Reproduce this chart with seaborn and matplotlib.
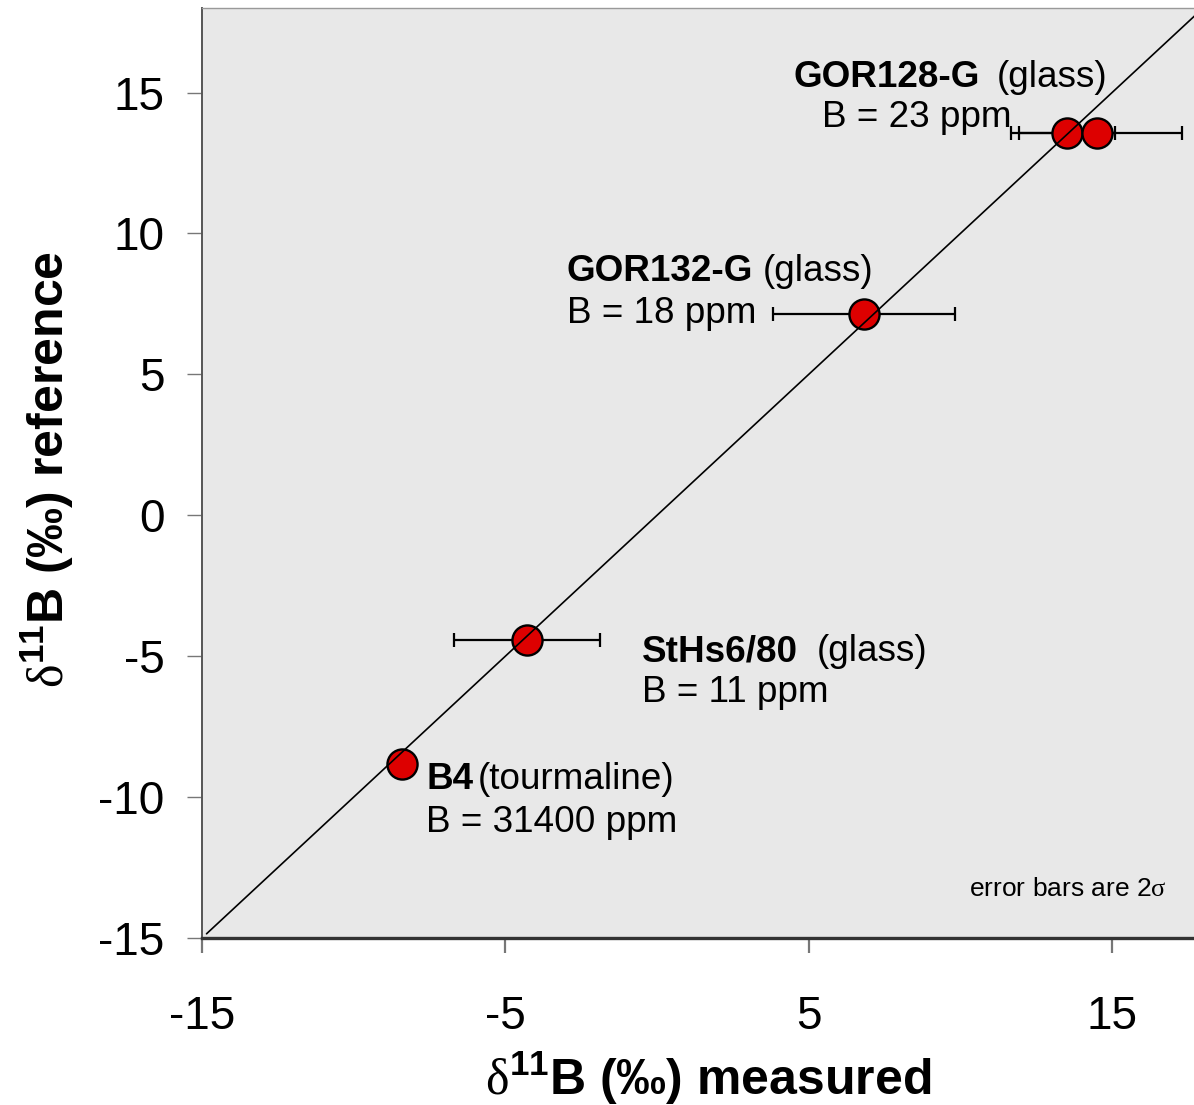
import numpy as np
import pandas as pd
import matplotlib
matplotlib.use("Agg")
import matplotlib.pyplot as plt
import seaborn as sns

# delta-11B standards: measured vs. reference values (per mil), 2-sigma errors
samples = ["B4", "StHs6/80", "GOR132-G", "GOR128-G", "GOR128-G"]
measured = [-8.41, -4.28, 6.83, 13.52, 14.49]
reference = [-8.83, -4.43, 7.13, 13.55, 13.55]
err_2s = [np.nan, 2.40, 3.00, 1.59, 2.81]

# sample labels: name, material, boron content
label_names = ["GOR128-G", "GOR132-G", "StHs6/80", "B4"]
label_material = ["(glass)", "(glass)", "(glass)", "(tourmaline)"]
label_boron = ["B = 23 ppm", "B = 18 ppm", "B = 11 ppm", "B = 31400 ppm"]

x_ticks = [-15, -5, 5, 15]
y_ticks = [-15, -10, -5, 0, 5, 10, 15]

df = pd.DataFrame({"sample": samples, "measured": measured,
                   "reference": reference, "err": err_2s})

sns.set_theme(style="white")
plt.rcParams["font.family"] = ["Liberation Sans", "DejaVu Sans"]
plt.rcParams["mathtext.fontset"] = "custom"
plt.rcParams["mathtext.rm"] = "Liberation Serif"
plt.rcParams["mathtext.bf"] = "Liberation Sans:bold"
for key in ["text.color", "axes.labelcolor", "xtick.labelcolor", "ytick.labelcolor"]:
    plt.rcParams[key] = "black"

W, H = 1194, 1105
fig = plt.figure(figsize=(W / 100, H / 100), dpi=100)
ax = fig.add_axes([202 / W, 1 - 938 / H, 1 - 202 / W, (938 - 8) / H])
ax.set_facecolor("#e8e8e8")

# 1:1 line
one_to_one = pd.DataFrame({"x": [-14.85, 18.5], "y": [-14.85, 18.5]})

# error bars (2 sigma) behind the markers
eb = df.dropna(subset=["err"])
ax.errorbar(eb["measured"], eb["reference"], xerr=eb["err"], fmt="none",
            ecolor="black", elinewidth=1.6, capsize=4.8, capthick=1.6, zorder=2)

sns.scatterplot(data=df, x="measured", y="reference", ax=ax, s=470,
                color="#dd0000", edgecolor="black", linewidth=1.7, zorder=3,
                legend=False)

sns.lineplot(data=one_to_one, x="x", y="y", ax=ax, color="black",
             linewidth=1.2, zorder=4)

ax.set_xlim(-15, 17.7)
ax.set_ylim(-15, 18.0)
ax.set_xticks(x_ticks)
ax.set_yticks(y_ticks)
ax.set_xticklabels([str(v) for v in x_ticks])
ax.set_yticklabels([str(v) for v in y_ticks])

ax.tick_params(axis="x", direction="out", length=11, width=1.6, color="#777777",
               labelsize=33, pad=30, bottom=True)
ax.tick_params(axis="y", direction="out", length=11, width=1.0, color="#777777",
               labelsize=33, pad=16, left=True)

ax.spines["right"].set_visible(False)
ax.spines["top"].set_color("#999999")
ax.spines["top"].set_linewidth(1.0)
ax.spines["left"].set_color("#555555")
ax.spines["left"].set_linewidth(1.4)
ax.spines["bottom"].set_color("#333333")
ax.spines["bottom"].set_linewidth(2.4)

ax.set_xlabel("")
ax.set_ylabel("")
fig.text(708 / W, 1 - 1078 / H, r"$\mathrm{\delta}^{\mathbf{11}}$B (‰) measured",
         fontsize=36, fontweight="bold", ha="center", va="center")
fig.text(47 / W, 1 - 470 / H, r"$\mathrm{\delta}^{\mathbf{11}}$B (‰) reference",
         fontsize=36, fontweight="bold", ha="center", va="center", rotation=90)

# sample annotations: (x name, x material, y name line, x boron, y boron line)
label_pos = [
    (4.49, 11.21, 15.21, 5.44, 13.77),
    (-2.97, 3.50, 8.30, -2.97, 6.81),
    (-0.49, 5.28, -5.18, -0.49, -6.62),
    (-7.61, -5.90, -9.71, -7.61, -11.24),
]
fs = 26.6
for name, mat, boron, (xn, xm, yn, xb, yb) in zip(label_names, label_material,
                                                   label_boron, label_pos):
    ax.text(xn, yn, name, fontsize=fs, fontweight="bold", ha="left", va="baseline")
    ax.text(xm, yn, mat, fontsize=fs, ha="left", va="baseline")
    ax.text(xb, yb, boron, fontsize=fs, ha="left", va="baseline")

ax.text(10.29, -13.51, r"error bars are 2$\mathrm{\sigma}$", fontsize=19,
        ha="left", va="baseline")

fig.savefig("out.png", dpi=100)
